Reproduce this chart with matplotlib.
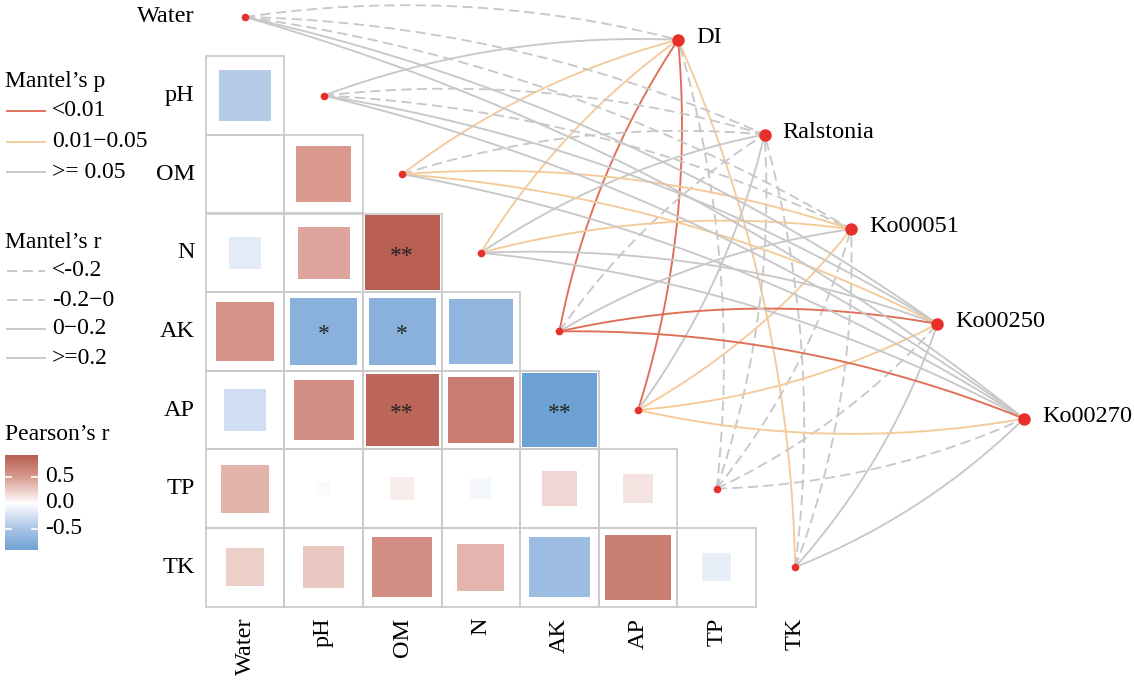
import matplotlib

matplotlib.use("Agg")
import matplotlib.pyplot as plt
import numpy as np
from matplotlib.colors import LinearSegmentedColormap, Normalize
from matplotlib.patches import Rectangle

plt.rcParams["font.family"] = ["Liberation Serif", "DejaVu Serif"]

ENV_VARS = ["Water", "pH", "OM", "N", "AK", "AP", "TP", "TK"]
TARGETS = ["DI", "Ralstonia", "Ko00051", "Ko00250", "Ko00270"]

# lower triangle of Pearson's r: row i holds the values for columns 0..i-1
PEARSON_R = [
    [],
    [-0.43],
    [0.0, 0.50],
    [-0.17, 0.44, 0.92],
    [0.55, -0.72, -0.72, -0.67],
    [-0.28, 0.58, 0.86, 0.71, -0.90],
    [0.37, 0.03, 0.09, -0.07, 0.20, 0.14],
    [0.24, 0.28, 0.58, 0.36, -0.59, 0.69, -0.13],
]
PEARSON_SIG = [
    [],
    [""],
    ["", ""],
    ["", "", "**"],
    ["", "*", "*", ""],
    ["", "", "**", "", "**"],
    ["", "", "", "", "", ""],
    ["", "", "", "", "", "", ""],
]

# Mantel test classes, one row per target, columns follow ENV_VARS
MANTEL_P = [
    [">= 0.05", ">= 0.05", "0.01-0.05", "0.01-0.05", "<0.01", "<0.01", ">= 0.05", "0.01-0.05"],
    [">= 0.05", ">= 0.05", ">= 0.05", ">= 0.05", ">= 0.05", ">= 0.05", ">= 0.05", ">= 0.05"],
    [">= 0.05", ">= 0.05", "0.01-0.05", "0.01-0.05", ">= 0.05", "0.01-0.05", ">= 0.05", ">= 0.05"],
    [">= 0.05", ">= 0.05", "0.01-0.05", ">= 0.05", "<0.01", "0.01-0.05", ">= 0.05", ">= 0.05"],
    [">= 0.05", ">= 0.05", ">= 0.05", ">= 0.05", "<0.01", "0.01-0.05", ">= 0.05", ">= 0.05"],
]
MANTEL_R = [
    ["-0.2-0", "0-0.2", "0-0.2", "0-0.2", ">=0.2", ">=0.2", "-0.2-0", "0-0.2"],
    ["-0.2-0", "-0.2-0", "-0.2-0", "0-0.2", "-0.2-0", "0-0.2", "-0.2-0", "-0.2-0"],
    ["-0.2-0", "-0.2-0", "0-0.2", "0-0.2", "0-0.2", "0-0.2", "-0.2-0", "-0.2-0"],
    ["0-0.2", "0-0.2", "0-0.2", "0-0.2", ">=0.2", "0-0.2", "-0.2-0", "0-0.2"],
    ["0-0.2", "0-0.2", "0-0.2", "0-0.2", ">=0.2", "0-0.2", "-0.2-0", "0-0.2"],
]

P_COLOURS = {"<0.01": "#E06D55", "0.01-0.05": "#F5CA9A", ">= 0.05": "#C8C8C8"}
P_LABELS = ["<0.01", "0.01\u22120.05", ">= 0.05"]
R_LABELS = ["<-0.2", "-0.2\u22120", "0\u22120.2", ">=0.2"]
DASHED = {"<-0.2", "-0.2-0"}
DASH = (0, (5.5, 2.8))

CMAP = LinearSegmentedColormap.from_list(
    "pearson",
    [
        (0.0, "#6499D0"),
        (0.05, "#6FA3D5"),
        (0.25, "#AAC3E5"),
        (0.5, "#FFFFFF"),
        (0.75, "#D99A90"),
        (0.96, "#B85F52"),
        (1.0, "#B35A4D"),
    ],
)
NORM = Normalize(-1, 1)

W, H = 1134, 681
CELL = 78.6
X0_PX, Y0_PX = 245, 17
NODE_START = (5.51, 0.29)
NODE_STEP = (1.10, 1.205)
LINE_W = 1.35


def curve(x0, y0, x1, y1, bend, curvature=0.1, n=80):
    dx, dy = x1 - x0, y1 - y0
    cx = (x0 + x1) / 2 + bend * curvature * dy
    cy = (y0 + y1) / 2 - bend * curvature * dx
    t = np.linspace(0, 1, n)
    xs = (1 - t) ** 2 * x0 + 2 * (1 - t) * t * cx + t**2 * x1
    ys = (1 - t) ** 2 * y0 + 2 * (1 - t) * t * cy + t**2 * y1
    return xs, ys


fig = plt.figure(figsize=(W / 100, H / 100), dpi=100, facecolor="white")
ax = fig.add_axes([0, 0, 1, 1])
ax.set_xlim(-X0_PX / CELL, (W - X0_PX) / CELL)
ax.set_ylim((H - Y0_PX) / CELL, -Y0_PX / CELL)
ax.axis("off")

n_env = len(ENV_VARS)

# heatmap cells
for i in range(n_env):
    for j in range(i):
        ax.add_patch(Rectangle((j - 0.5, i - 0.5), 1, 1, facecolor="none",
                               edgecolor="#CCCCCC", linewidth=1.3, zorder=2))
        r = PEARSON_R[i][j]
        side = np.sqrt(abs(r))
        if side > 0:
            ax.add_patch(Rectangle((j - side / 2, i - side / 2), side, side,
                                   facecolor=CMAP(NORM(r)), edgecolor="none", zorder=3))
        if PEARSON_SIG[i][j]:
            ax.text(j, i + 0.045, PEARSON_SIG[i][j], ha="center", va="center",
                    fontsize=17, color="#222222", zorder=4)

for i, name in enumerate(ENV_VARS):
    ax.text(-0.64, i, name, ha="right", va="center", fontsize=17.5)
    ax.text(i, n_env - 0.5 + 0.14, name, ha="center", va="top", rotation=90, fontsize=17.5)

# Mantel links
nodes = [(NODE_START[0] + k * NODE_STEP[0], NODE_START[1] + k * NODE_STEP[1])
         for k in range(len(TARGETS))]
for k, (nx, ny) in enumerate(nodes):
    for j in range(n_env):
        bend = 1 if j <= 4 else -1
        xs, ys = curve(j, j, nx, ny, bend)
        style = DASH if MANTEL_R[k][j] in DASHED else "-"
        ax.plot(xs, ys, color=P_COLOURS[MANTEL_P[k][j]], linewidth=LINE_W,
                linestyle=style, zorder=1, solid_capstyle="butt")

ax.plot(range(n_env), range(n_env), "o", color="#E8302A", markersize=5.5, zorder=5,
        markeredgewidth=0)
ax.plot([p[0] for p in nodes], [p[1] for p in nodes], "o", color="#E8302A",
        markersize=9, zorder=5, markeredgewidth=0)
for (nx, ny), name in zip(nodes, TARGETS):
    ax.text(nx + 0.23, ny - 0.03, name, ha="left", va="center", fontsize=17.5)

# legends, drawn in pixel space
lax = fig.add_axes([0, 0, 1, 1], facecolor="none")
lax.set_xlim(0, W)
lax.set_ylim(H, 0)
lax.axis("off")

lax.text(5, 82, "Mantel\u2019s p", ha="left", va="center", fontsize=17)
for idx, (key, label) in enumerate(zip(P_COLOURS, P_LABELS)):
    y = 111 + idx * 30.5
    lax.plot([7, 45], [y, y], color=P_COLOURS[key], linewidth=LINE_W)
    lax.text(52, y, label, ha="left", va="center", fontsize=17)

lax.text(5, 243, "Mantel\u2019s r", ha="left", va="center", fontsize=17)
for idx, label in enumerate(R_LABELS):
    y = 271 + idx * 29
    style = DASH if idx < 2 else "-"
    lax.plot([7, 45], [y, y], color="#C8C8C8", linewidth=LINE_W, linestyle=style)
    lax.text(52, y, label, ha="left", va="center", fontsize=17)

lax.text(5, 435, "Pearson\u2019s r", ha="left", va="center", fontsize=17)
flat = [v for row in PEARSON_R for v in row]
r_max, r_min = max(flat), min(flat)
zero_y, unit = 503, 52


def bar_y(v):
    return zero_y - v * unit


grad = np.linspace(r_max, r_min, 256)[:, None]
lax.imshow(grad, cmap=CMAP, norm=NORM, aspect="auto", origin="upper",
           extent=(5, 38, bar_y(r_min), bar_y(r_max)), interpolation="bilinear")
for v, lab in [(0.5, "0.5"), (0.0, "0.0"), (-0.5, "-0.5")]:
    y = bar_y(v)
    lax.plot([5, 11], [y, y], color="white", linewidth=1.2)
    lax.plot([32, 38], [y, y], color="white", linewidth=1.2)
    lax.text(45, y, lab, ha="left", va="center", fontsize=17)
lax.set_xlim(0, W)
lax.set_ylim(H, 0)

fig.savefig("out.png", dpi=100, facecolor="white")
